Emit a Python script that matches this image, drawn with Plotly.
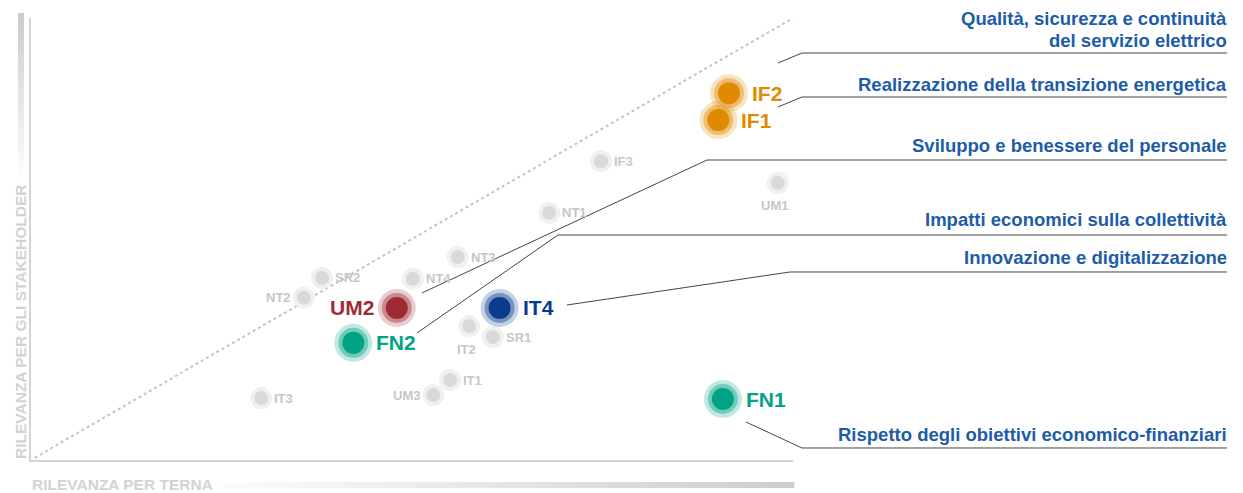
import plotly.graph_objects as go

# ---------------- data ----------------
# highlighted material topics
hi_codes = ["IF2", "IF1", "FN1", "IT4", "UM2", "FN2"]
hi_x = [9.16, 9.02, 9.08, 6.15, 4.80, 4.23]   # rilevanza per Terna
hi_y = [8.30, 7.69, 1.38, 3.44, 3.44, 2.65]   # rilevanza per gli stakeholder
hi_rgb = [(224, 138, 0), (224, 138, 0), (0, 163, 131), (10, 60, 140), (158, 42, 51), (0, 163, 131)]
hi_side = ["r", "r", "r", "r", "l", "r"]

# other topics (grey)
lo_codes = ["IF3", "UM1", "NT1", "NT3", "SR2", "NT4", "NT2", "IT2", "SR1", "IT1", "UM3", "IT3"]
lo_x = [7.48, 9.80, 6.80, 5.60, 3.82, 5.01, 3.58, 5.75, 6.06, 5.50, 5.28, 3.02]
lo_y = [6.76, 6.27, 5.59, 4.59, 4.12, 4.10, 3.67, 3.03, 2.78, 1.81, 1.47, 1.40]
lo_side = ["r", "b", "r", "r", "r", "r", "l", "b", "r", "r", "l", "r"]

# themes (right-hand legend)
themes = [
    "Qualità, sicurezza e continuità",
    "del servizio elettrico",
    "Realizzazione della transizione energetica",
    "Sviluppo e benessere del personale",
    "Impatti economici sulla collettività",
    "Innovazione e digitalizzazione",
    "Rispetto degli obiettivi economico-finanziari",
]
x_title = "RILEVANZA PER TERNA"
y_title = "RILEVANZA PER GLI STAKEHOLDER"

# ---------------- layout helpers ----------------
PAGE_W, PAGE_H = 1243, 493
OFF = 8                      # default body margin of the html page
W, H = PAGE_W - OFF, PAGE_H - OFF
L, R, T, B = 31, 793, 18, 460  # plot box in page pixels
FONT = "Liberation Sans, Arial, Helvetica, sans-serif"


def px(xp):
    return (xp - L) / (R - L)


def py(yp):
    return (B - yp) / (B - T)


def rgba(c, a):
    return f"rgba({c[0]},{c[1]},{c[2]},{a})"


fig = go.Figure()

# diagonal reference line
fig.add_trace(go.Scatter(x=[0.05, 10], y=[0.05, 10], mode="lines",
                         line=dict(color="#c4c4c4", width=2, dash="dot"),
                         hoverinfo="skip", showlegend=False))

# grey points
fig.add_trace(go.Scatter(x=lo_x, y=lo_y, mode="markers",
                         marker=dict(size=22, color="#f0f0f0", line=dict(width=0)),
                         hoverinfo="skip", showlegend=False))
fig.add_trace(go.Scatter(x=lo_x, y=lo_y, mode="markers",
                         marker=dict(size=14, color="#d9d9d9", line=dict(width=0)),
                         text=lo_codes, hoverinfo="text", showlegend=False))

# highlighted points
fig.add_trace(go.Scatter(x=hi_x, y=hi_y, mode="markers",
                         marker=dict(size=38, color=[rgba(c, 0.24) for c in hi_rgb], line=dict(width=0)),
                         hoverinfo="skip", showlegend=False))
fig.add_trace(go.Scatter(x=hi_x, y=hi_y, mode="markers",
                         marker=dict(size=30, color=[rgba(c, 0.42) for c in hi_rgb], line=dict(width=0)),
                         hoverinfo="skip", showlegend=False))
fig.add_trace(go.Scatter(x=hi_x, y=hi_y, mode="markers",
                         marker=dict(size=22, color=[rgba(c, 1) for c in hi_rgb], line=dict(width=0)),
                         text=hi_codes, hoverinfo="text", showlegend=False))

annotations = []
for c, x, y, rgb, s in zip(hi_codes, hi_x, hi_y, hi_rgb, hi_side):
    annotations.append(dict(x=x, y=y, xref="x", yref="y", text=f"<b>{c}</b>", showarrow=False,
                            xanchor="left" if s == "r" else "right", yanchor="middle",
                            xshift=21 if s == "r" else -21, yshift=0,
                            font=dict(family=FONT, size=21, color=rgba(rgb, 1))))
for c, x, y, s in zip(lo_codes, lo_x, lo_y, lo_side):
    if s == "b":
        annotations.append(dict(x=x, y=y, xref="x", yref="y", text=f"<b>{c}</b>", showarrow=False,
                                xanchor="center", yanchor="middle", yshift=-23, xshift=-3,
                                font=dict(family=FONT, size=13, color="#c6c6c6")))
    else:
        annotations.append(dict(x=x, y=y, xref="x", yref="y", text=f"<b>{c}</b>", showarrow=False,
                                xanchor="left" if s == "r" else "right", yanchor="middle",
                                xshift=11 if s == "r" else -11,
                                font=dict(family=FONT, size=13, color="#c6c6c6")))

# theme texts (pixel positions of their centre lines)
theme_y = [19, 40, 84, 145, 219, 257, 434]
for t, yy in zip(themes, theme_y):
    annotations.append(dict(x=px(1229), y=py(yy), xref="paper", yref="paper", text=f"<b>{t}</b>",
                            showarrow=False, xanchor="right", yanchor="middle",
                            font=dict(family=FONT, size=18.5, color="#1c5ca8")))

# axis titles
annotations.append(dict(x=px(30), y=py(484), xref="paper", yref="paper", text=f"<b>{x_title}</b>",
                        showarrow=False, xanchor="left", yanchor="middle",
                        font=dict(family=FONT, size=15.5, color="#d2d2d2")))
annotations.append(dict(x=px(20), y=py(322), xref="paper", yref="paper", text=f"<b>{y_title}</b>",
                        showarrow=False, xanchor="center", yanchor="middle", textangle=-90,
                        font=dict(family=FONT, size=15.5, color="#d2d2d2")))

shapes = []
# leader lines (pixel paths)
leaders = [
    [(778, 63), (802, 53), (1227, 53)],
    [(778, 107), (802, 97), (1227, 97)],
    [(422, 293), (707, 160), (1227, 160)],
    [(417, 333), (558, 235), (1227, 235)],
    [(567, 305), (790, 272), (1227, 272)],
    [(746, 422), (802, 448), (1227, 448)],
]
for pts in leaders:
    path = "M " + " L ".join(f"{px(a):.5f},{py(b):.5f}" for a, b in pts)
    shapes.append(dict(type="path", path=path, xref="paper", yref="paper",
                       line=dict(color="#444444", width=1)))

# gradient bars next to axis titles
N = 60
x0b, x1b = 218, 794
for i in range(N):
    a = x0b + (x1b - x0b) * i / N
    b = x0b + (x1b - x0b) * (i + 1) / N
    v = int(253 - (253 - 205) * (i + 0.5) / N)
    shapes.append(dict(type="rect", xref="paper", yref="paper", x0=px(a), x1=px(b) + 0.0005,
                       y0=py(488), y1=py(482), line=dict(width=0), fillcolor=f"rgb({v},{v},{v})",
                       layer="below"))
y0b, y1b = 13, 178
for i in range(N):
    a = y0b + (y1b - y0b) * i / N
    b = y0b + (y1b - y0b) * (i + 1) / N
    v = int(203 + (254 - 203) * (i + 0.5) / N)
    shapes.append(dict(type="rect", xref="paper", yref="paper", x0=px(18), x1=px(24),
                       y0=py(b) - 0.001, y1=py(a), line=dict(width=0), fillcolor=f"rgb({v},{v},{v})",
                       layer="below"))

axis_common = dict(range=[0, 10], showgrid=False, zeroline=False, showticklabels=False, ticks="",
                   showline=True, linecolor="#d4d4d4", linewidth=1.5, fixedrange=True)

fig.update_layout(
    width=W, height=H,
    margin=dict(l=L - OFF, r=PAGE_W - R, t=T - OFF, b=PAGE_H - B, pad=0),
    paper_bgcolor="white", plot_bgcolor="white",
    xaxis=axis_common, yaxis=axis_common,
    annotations=annotations, shapes=shapes,
    showlegend=False, font=dict(family=FONT),
)

fig.write_html("out.html", config={"displayModeBar": False})
